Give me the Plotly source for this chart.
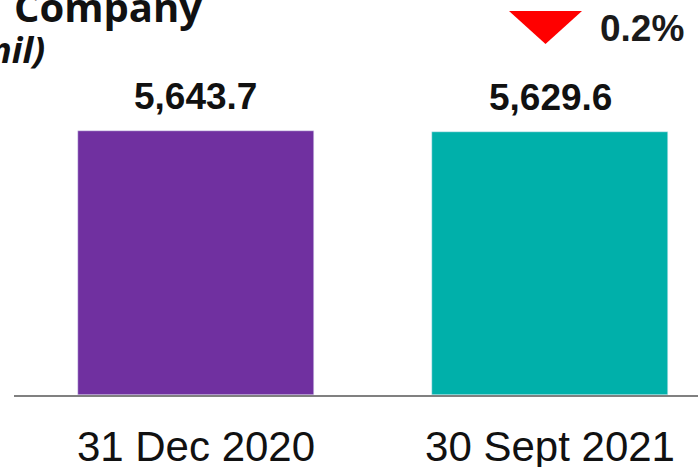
import plotly.graph_objects as go

categories = ["31 Dec 2020", "30 Sept 2021"]
values = [5643.7, 5629.6]
value_labels = ["5,643.7", "5,629.6"]
bar_colors = ["#7030A0", "#00B0AA"]
change_label = "0.2%"
title_fragment = "Company"
subtitle_fragment = "nil)"

W, H = 698, 467
L, R, T, B = 14, 0, 0, 72

fig = go.Figure()
fig.add_trace(go.Bar(
    x=categories, y=values, marker_color=bar_colors, width=0.667,
    hoverinfo="skip", showlegend=False,
))

for c, v, t in zip(categories, values, value_labels):
    fig.add_annotation(x=c, y=v, text=f"<b>{t}</b>", showarrow=False, yanchor="bottom",
                       yshift=12, font=dict(family="Liberation Sans, Arial", size=37, color="#111111"),
                       xref="x", yref="y")

pw, ph = W - L - R, H - T - B
def px(x):
    return (x - L) / pw
def py(y):
    return (H - B - y) / ph

# red down triangle
fig.add_shape(type="path",
              path=f"M {px(509)} {py(11)} L {px(582)} {py(11)} L {px(545.5)} {py(44)} Z",
              xref="paper", yref="paper", fillcolor="#FF0000", line=dict(width=0))
fig.add_annotation(x=px(598), y=py(29), xref="paper", yref="paper", text=f"<b>{change_label}</b>",
                   showarrow=False, xanchor="left", yanchor="middle",
                   font=dict(family="Liberation Sans, Arial", size=37, color="#1a1a1a"))

fig.add_annotation(x=px(12), y=py(20), xref="paper", yref="paper", text=f"<b>{title_fragment}</b>",
                   showarrow=False, xanchor="left", yanchor="bottom", yshift=-16,
                   font=dict(family="Open Sans", size=40, color="#111111"))
fig.add_annotation(x=px(47), y=py(49), xref="paper", yref="paper", text=f"<b><i>{subtitle_fragment}</i></b>",
                   showarrow=False, xanchor="right", yanchor="middle",
                   font=dict(family="Open Sans", size=36, color="#111111"))

fig.update_layout(
    width=W, height=H, margin=dict(l=L, r=R, t=T, b=B, autoexpand=False),
    paper_bgcolor="white", plot_bgcolor="white",
    xaxis=dict(range=[-0.514, 1.418], showline=True, linecolor="#808080", linewidth=2,
               showgrid=False, ticks="", ticklabelstandoff=14, automargin=False,
               tickfont=dict(family="Liberation Sans, Arial", size=42, color="#111111")),
    yaxis=dict(range=[0, 8444], visible=False, showgrid=False, automargin=False),
    bargap=0,
)
fig.write_html("out.html", config={"displayModeBar": False},
               post_script="document.body.style.margin='0';document.body.style.overflow='hidden';")
